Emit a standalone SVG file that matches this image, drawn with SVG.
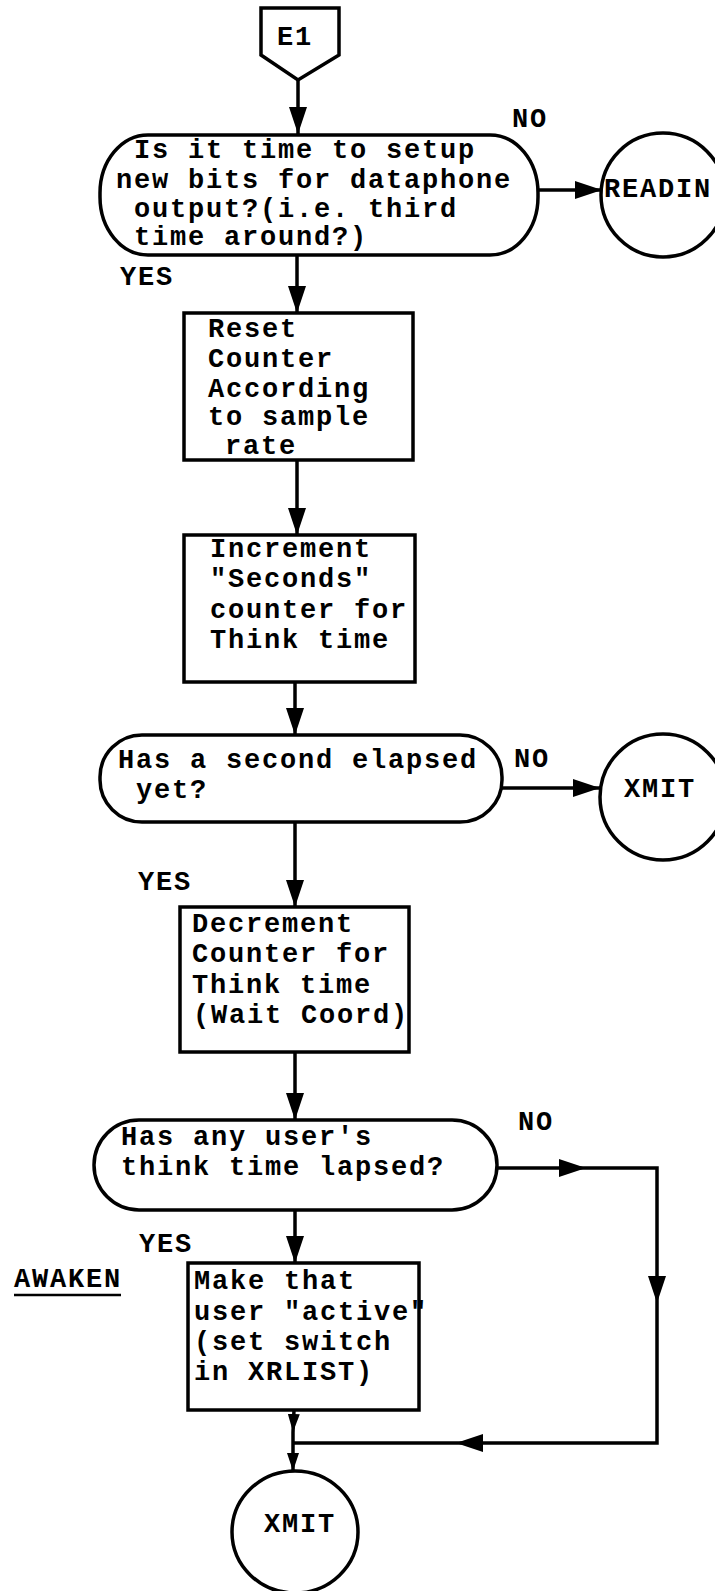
<svg xmlns="http://www.w3.org/2000/svg" width="715" height="1591" viewBox="0 0 715 1591">
<style>
.s{fill:#fff;stroke:#000;stroke-width:3.5}
.c{fill:none;stroke:#000;stroke-width:3.5}
text{font-family:"Liberation Mono","DejaVu Sans Mono",monospace;font-weight:bold;font-size:27px;letter-spacing:1.8px;fill:#000}
.m{text-anchor:middle}
</style>
<defs>
<marker id="ah" markerUnits="userSpaceOnUse" markerWidth="30" markerHeight="20" refX="27" refY="9" orient="auto">
<path d="M0,0 L27,9 L0,18 z" fill="#000"/>
</marker>
<marker id="ahs" markerUnits="userSpaceOnUse" markerWidth="20" markerHeight="12" refX="18" refY="6" orient="auto">
<path d="M0,0 L18,6 L0,12 z" fill="#000"/>
</marker>
</defs>
<rect width="715" height="1591" fill="#fff"/>
<g id="connectors">
<path class="c" d="M298,80 L298,134" marker-end="url(#ah)"/>
<path class="c" d="M538,190 L602,190" marker-end="url(#ah)"/>
<path class="c" d="M297,255 L297,313" marker-end="url(#ah)"/>
<path class="c" d="M297,460 L297,535" marker-end="url(#ah)"/>
<path class="c" d="M295,682 L295,735" marker-end="url(#ah)"/>
<path class="c" d="M502,788 L600,788" marker-end="url(#ah)"/>
<path class="c" d="M295,822 L295,907" marker-end="url(#ah)"/>
<path class="c" d="M295,1052 L295,1120" marker-end="url(#ah)"/>
<path class="c" d="M295,1210 L295,1263" marker-end="url(#ah)"/>
<path class="c" d="M497,1168 L586,1168" marker-end="url(#ah)"/>
<path class="c" d="M586,1168 L657,1168 L657,1303" marker-end="url(#ah)"/>
<path class="c" d="M657,1303 L657,1443 L456,1443" marker-end="url(#ah)"/>
<path class="c" d="M456,1443 L293,1443"/>
<path class="c" d="M294,1410 L293,1432" marker-end="url(#ahs)"/>
<path class="c" d="M293,1432 L293,1471" marker-end="url(#ahs)"/>
</g>
<g id="E1">
<path class="s" d="M261,8 L339,8 L339,55 L298,80 L261,55 z"/>
<text x="295" y="45" class="m">E1</text>
</g>
<g id="decision1">
<rect class="s" x="100" y="135" width="438" height="120" rx="48" ry="58"/>
<text x="134" y="158">Is it time to setup</text>
<text x="116" y="188">new bits for dataphone</text>
<text x="134" y="217">output?(i.e. third</text>
<text x="134" y="245">time around?)</text>
</g>
<text x="512" y="127">NO</text>
<text x="120" y="285">YES</text>
<g id="readin">
<circle class="s" cx="663" cy="195" r="62"/>
<text x="604" y="197">READIN</text>
</g>
<g id="reset">
<rect class="s" x="184" y="313" width="229" height="147"/>
<text x="208" y="337">Reset</text>
<text x="208" y="367">Counter</text>
<text x="208" y="397">According</text>
<text x="208" y="425">to sample</text>
<text x="225" y="454">rate</text>
</g>
<g id="increment">
<rect class="s" x="184" y="535" width="231" height="147"/>
<text x="210" y="557">Increment</text>
<text x="210" y="587">"Seconds"</text>
<text x="210" y="618">counter for</text>
<text x="210" y="648">Think time</text>
</g>
<g id="decision2">
<rect class="s" x="100" y="735" width="402" height="87" rx="42" ry="42"/>
<text x="118" y="768">Has a second elapsed</text>
<text x="136" y="798">yet?</text>
</g>
<text x="514" y="767">NO</text>
<g id="xmit1">
<circle class="s" cx="663" cy="797" r="63"/>
<text x="660" y="797" class="m">XMIT</text>
</g>
<text x="138" y="890">YES</text>
<g id="decrement">
<rect class="s" x="180" y="907" width="229" height="145"/>
<text x="192" y="932">Decrement</text>
<text x="192" y="962">Counter for</text>
<text x="192" y="993">Think time</text>
<text x="193" y="1023">(Wait Coord)</text>
</g>
<g id="decision3">
<rect class="s" x="94" y="1120" width="403" height="90" rx="45" ry="45"/>
<text x="121" y="1145">Has any user's</text>
<text x="121" y="1175">think time lapsed?</text>
</g>
<text x="518" y="1130">NO</text>
<text x="139" y="1252">YES</text>
<g id="awaken">
<text x="14" y="1287">AWAKEN</text>
<line x1="14" y1="1295" x2="121" y2="1295" stroke="#000" stroke-width="2.5"/>
</g>
<g id="make-active">
<rect class="s" x="188" y="1263" width="231" height="147"/>
<text x="194" y="1289">Make that</text>
<text x="194" y="1320">user "active"</text>
<text x="194" y="1350">(set switch</text>
<text x="194" y="1380">in XRLIST)</text>
</g>
<g id="xmit2">
<ellipse class="s" cx="295" cy="1532" rx="63" ry="61"/>
<text x="300" y="1532" class="m">XMIT</text>
</g>
</svg>
